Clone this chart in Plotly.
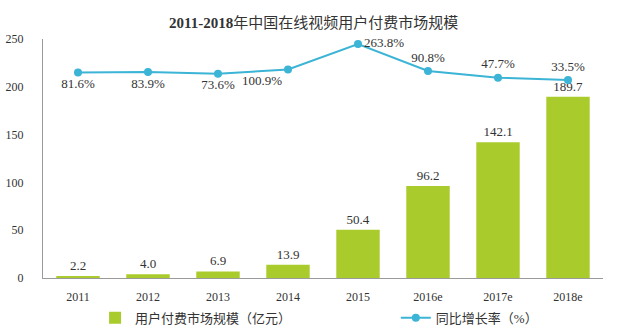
import plotly.graph_objects as go

years = ["2011", "2012", "2013", "2014", "2015", "2016e", "2017e", "2018e"]
market_size = [2.2, 4.0, 6.9, 13.9, 50.4, 96.2, 142.1, 189.7]
growth_rate = [81.6, 83.9, 73.6, 100.9, 263.8, 90.8, 47.7, 33.5]
growth_labels = ["81.6%", "83.9%", "73.6%", "100.9%", "263.8%", "90.8%", "47.7%", "33.5%"]
growth_label_pos = ["bottom center", "bottom center", "bottom center", "bottom left",
                    "middle right", "top center", "top center", "top center"]

serif = "Liberation Serif, Noto Sans CJK SC, serif"
text_color = "#333333"

fig = go.Figure()
fig.add_trace(go.Bar(
    x=years, y=market_size, name="用户付费市场规模（亿元）",
    marker=dict(color="#AACB2C", line=dict(width=0)),
    text=[f"{v:.1f}" for v in market_size], textposition="outside",
    textfont=dict(family=serif, size=13, color=text_color),
    cliponaxis=False, width=0.62, legend="legend",
))
fig.add_trace(go.Scatter(
    x=years, y=growth_rate, name="同比增长率（%）", yaxis="y2",
    mode="lines+markers+text",
    line=dict(color="#3BB4D6", width=2),
    marker=dict(color="#3BB4D6", size=8),
    text=growth_labels, textposition=growth_label_pos,
    textfont=dict(family=serif, size=13, color=text_color),
    cliponaxis=False, legend="legend2",
))

legend_font = dict(family=serif, size=13, color=text_color)
fig.update_layout(
    width=640, height=331,
    margin=dict(l=43, r=37, t=39, b=53, autoexpand=False),
    paper_bgcolor="white", plot_bgcolor="white",
    title=dict(text="<b>2011-2018</b>年中国在线视频用户付费市场规模", x=0.49, xanchor="center",
               y=0.93, yanchor="middle",
               font=dict(family=serif, size=15, color="#333333")),
    xaxis=dict(showgrid=False, showline=True, linecolor="#9a9a9a", linewidth=1,
               ticks="", tickfont=dict(family=serif, size=12, color=text_color),
               ticklabelstandoff=8),
    yaxis=dict(range=[0, 250], dtick=50, showgrid=False, showline=True,
               linecolor="#9a9a9a", linewidth=1, ticks="", zeroline=False,
               tickfont=dict(family=serif, size=12, color=text_color), ticklabelstandoff=16),
    yaxis2=dict(overlaying="y", range=[-1236, 296], visible=False),
    legend=dict(orientation="h", x=0.093, xanchor="left", yref="container", y=0.04,
                yanchor="middle", font=legend_font, bgcolor="rgba(0,0,0,0)"),
    legend2=dict(orientation="h", x=0.63, xanchor="left", yref="container", y=0.04,
                 yanchor="middle", font=legend_font, bgcolor="rgba(0,0,0,0)"),
    showlegend=True,
)

fig.write_html("out.html")
